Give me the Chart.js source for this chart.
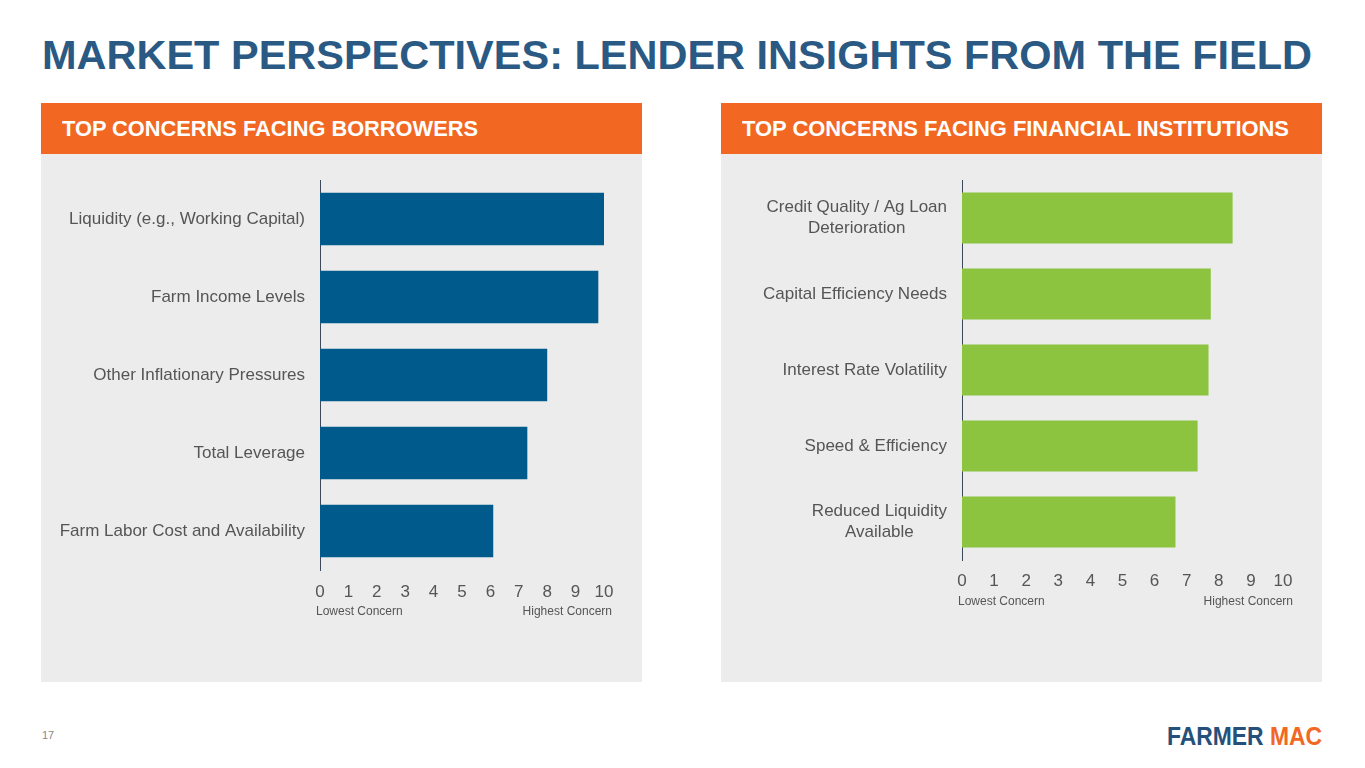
<!DOCTYPE html>
<html>
<head>
<meta charset="utf-8">
<script src="https://cdn.jsdelivr.net/npm/chart.js@4.4.0/dist/chart.umd.min.js"></script>
<style>
  body { margin: 0; width: 1365px; height: 768px; background: #fff; position: relative; overflow: hidden; font-family: "Liberation Sans", Arial, sans-serif; }
  .fit { display: inline-block; transform-origin: 0 0; white-space: nowrap; }
  .title { position: absolute; left: 42px; top: 33px; font-size: 40px; line-height: 44px; font-weight: bold; color: #2a5a83; }
  .panel { position: absolute; top: 103px; width: 601px; height: 579px; background: #ececec; }
  .head { height: 51px; background: #f26722; color: #fff; padding-left: 21px; }
  .head .fit { font-family: "Liberation Sans", Arial, sans-serif; font-weight: bold; font-size: 22px; line-height: 22px; margin-top: 15px; }
  .panel canvas { position: absolute; left: 0; top: 57px; }
  .note { position: absolute; font-size: 12px; color: #555; }
  .pg { position: absolute; left: 42px; top: 729px; font-size: 11px; color: #888; }
  .logo { position: absolute; left: 1167px; top: 722px; font-size: 25px; line-height: 28px; font-weight: bold; color: #24507a; }
  .logo span { color: #f26722; }
</style>
</head>
<body>
<div class="title fit" data-w="1270">MARKET PERSPECTIVES: LENDER INSIGHTS FROM THE FIELD</div>

<div class="panel" style="left:41px">
  <div class="head"><span class="fit" data-w="416">TOP CONCERNS FACING BORROWERS</span></div>
  <canvas id="chart-borrowers" width="601" height="470"></canvas>
  <div class="note" style="left:275px; top:501px">Lowest Concern</div>
  <div class="note" style="right:30px; top:501px">Highest Concern</div>
</div>

<div class="panel" style="left:721px">
  <div class="head"><span class="fit" data-w="547">TOP CONCERNS FACING FINANCIAL INSTITUTIONS</span></div>
  <canvas id="chart-institutions" width="601" height="470"></canvas>
  <div class="note" style="left:237px; top:491px">Lowest Concern</div>
  <div class="note" style="right:29px; top:491px">Highest Concern</div>
</div>

<div class="pg">17</div>
<div class="logo fit" data-w="155">FARMER <span>MAC</span></div>

<script>
// Concern scores, 0 = lowest concern, 10 = highest
const borrowerLabels = [
  'Liquidity (e.g., Working Capital)',
  'Farm Income Levels',
  'Other Inflationary Pressures',
  'Total Leverage',
  'Farm Labor Cost and Availability'
];
const borrowerScores = [10.0, 9.8, 8.0, 7.3, 6.1];

const lenderLabels = [
  ['Credit Quality / Ag Loan', 'Deterioration'],
  'Capital Efficiency Needs',
  'Interest Rate Volatility',
  'Speed & Efficiency',
  ['Reduced Liquidity', 'Available']
];
const lenderScores = [8.43, 7.75, 7.68, 7.34, 6.65];

const xTicks = [0, 1, 2, 3, 4, 5, 6, 7, 8, 9, 10];

// squeeze headings to the widths they have on the slide
document.querySelectorAll('.fit').forEach(el => {
  const w = el.getBoundingClientRect().width;
  el.style.transform = 'scaleX(' + (+el.dataset.w / w) + ')';
});

// y labels: right edge at the axis, multi-line labels centred within their own block
const centredLabels = {
  id: 'centredLabels',
  afterDraw(chart) {
    const y = chart.scales.y;
    const ctx = chart.ctx;
    ctx.save();
    ctx.font = '17px "Liberation Sans", Arial, sans-serif';
    ctx.fillStyle = '#555';
    ctx.textAlign = 'center';
    ctx.textBaseline = 'middle';
    chart.data.labels.forEach((lab, i) => {
      const lines = Array.isArray(lab) ? lab : [lab];
      const w = Math.max(...lines.map(l => ctx.measureText(l).width));
      const cx = y.right - 15 - w / 2;
      const cy = y.getPixelForTick(i);
      lines.forEach((l, j) => ctx.fillText(l, cx, cy + (j - (lines.length - 1) / 2) * 21));
    });
    ctx.restore();
  }
};

function makeChart(id, labels, values, color, yWidth, rightPad, bottomH, tickPad) {
  return new Chart(document.getElementById(id), {
    type: 'bar',
    data: {
      labels: labels,
      datasets: [{ data: values, backgroundColor: color, barPercentage: 1, categoryPercentage: 0.67 }]
    },
    options: {
      indexAxis: 'y',
      responsive: false,
      animation: false,
      layout: { padding: { top: 20, right: rightPad, left: 0, bottom: 0 } },
      plugins: { legend: { display: false }, tooltip: { enabled: false } },
      scales: {
        x: {
          min: 0, max: 10,
          afterBuildTicks: (s) => { s.ticks = xTicks.map(v => ({ value: v })); },
          afterFit: (s) => { s.height = bottomH; },
          grid: { display: false, drawTicks: false },
          border: { display: false },
          ticks: { color: '#555', padding: tickPad, font: { family: '"Liberation Sans", Arial, sans-serif', size: 17 } }
        },
        y: {
          afterFit: (s) => { s.width = yWidth; },
          grid: { display: false, drawTicks: false },
          border: { color: '#3d4a5a', width: 1 },
          ticks: { display: false }
        }
      }
    },
    plugins: [centredLabels]
  });
}

makeChart('chart-borrowers', borrowerLabels, borrowerScores, '#015a8c', 279, 38, 60, 12);
makeChart('chart-institutions', lenderLabels, lenderScores, '#8cc43f', 241, 39, 70, 11);
</script>
</body>
</html>
